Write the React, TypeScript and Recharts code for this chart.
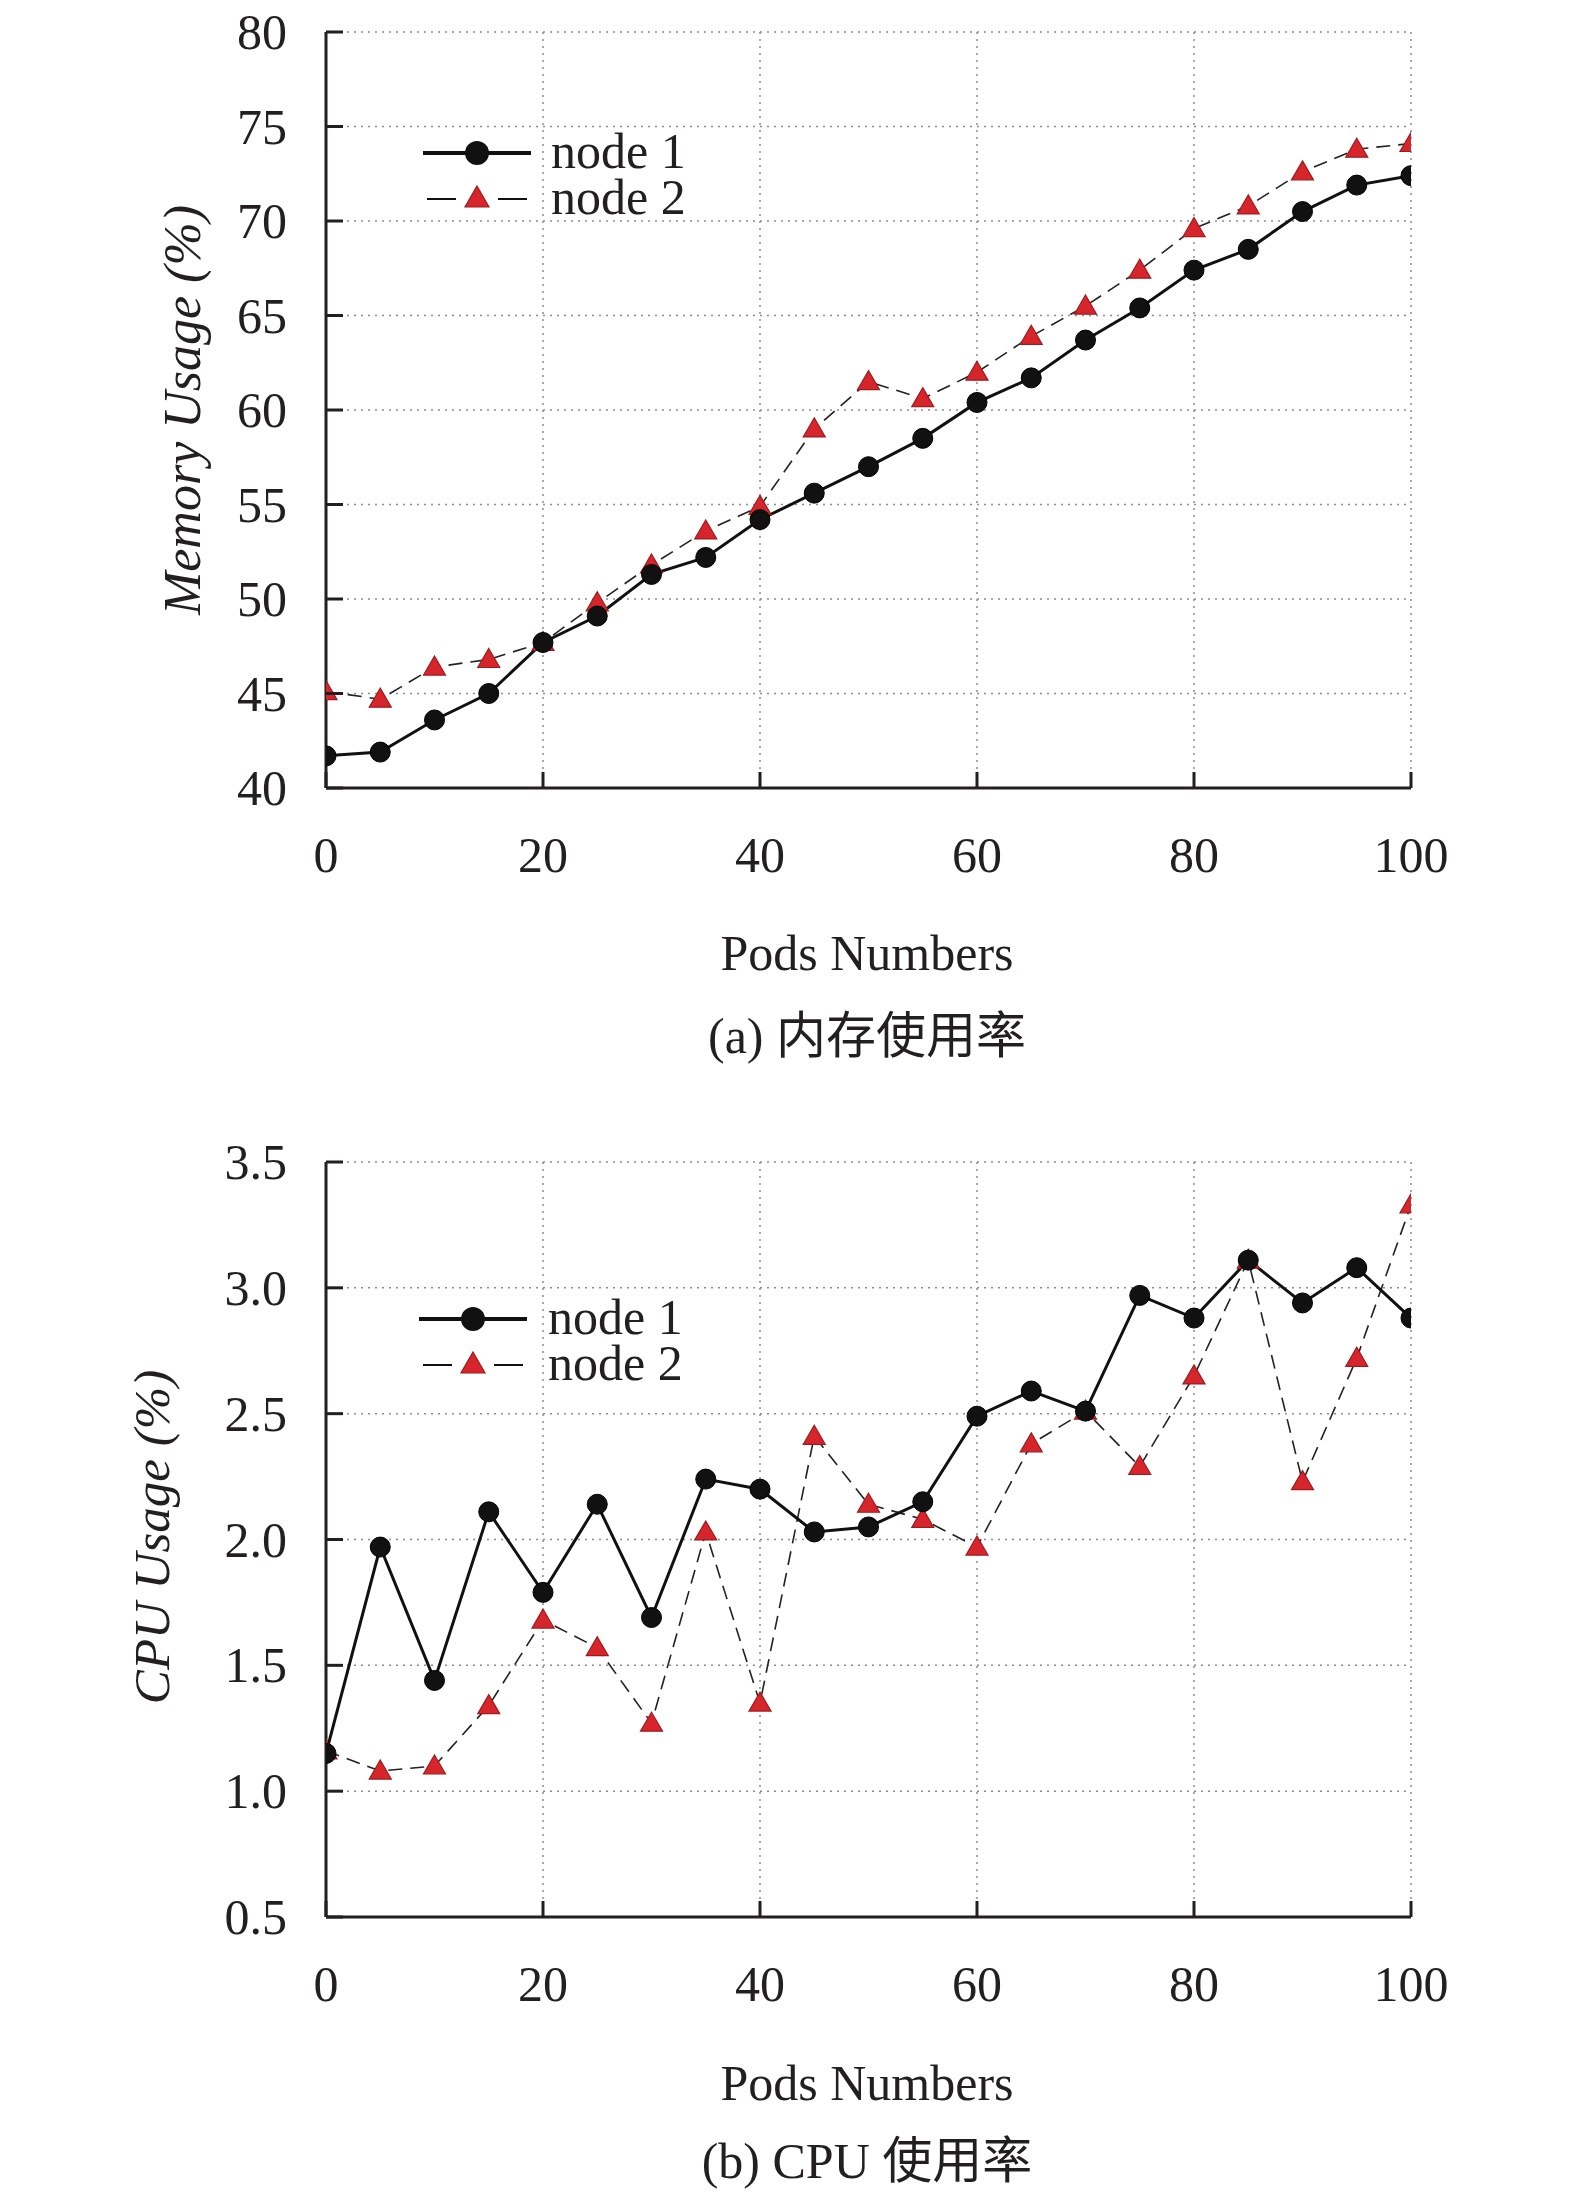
import { LineChart, Line, XAxis, YAxis, CartesianGrid } from "recharts";

const pods = [0, 5, 10, 15, 20, 25, 30, 35, 40, 45, 50, 55, 60, 65, 70, 75, 80, 85, 90, 95, 100];

const memNode1 = [41.7, 41.9, 43.6, 45.0, 47.7, 49.1, 51.3, 52.2, 54.2, 55.6, 57.0, 58.5, 60.4, 61.7, 63.7, 65.4, 67.4, 68.5, 70.5, 71.9, 72.4];
const memNode2 = [45.1, 44.7, 46.4, 46.8, 47.7, 49.8, 51.8, 53.6, 54.9, 59.0, 61.5, 60.6, 62.0, 63.9, 65.5, 67.4, 69.6, 70.8, 72.6, 73.8, 74.1];

const cpuNode1 = [1.15, 1.97, 1.44, 2.11, 1.79, 2.14, 1.69, 2.24, 2.2, 2.03, 2.05, 2.15, 2.49, 2.59, 2.51, 2.97, 2.88, 3.11, 2.94, 3.08, 2.88];
const cpuNode2 = [1.16, 1.08, 1.1, 1.34, 1.68, 1.57, 1.27, 2.03, 1.35, 2.41, 2.14, 2.08, 1.97, 2.38, 2.51, 2.29, 2.65, 3.11, 2.23, 2.72, 3.33];

const podTicks = [0, 20, 40, 60, 80, 100];
const memTicks = [40, 45, 50, 55, 60, 65, 70, 75, 80];
const cpuTicks = [0.5, 1.0, 1.5, 2.0, 2.5, 3.0, 3.5];

const memData = pods.map((p, i) => ({ pods: p, node1: memNode1[i], node2: memNode2[i] }));
const cpuData = pods.map((p, i) => ({ pods: p, node1: cpuNode1[i], node2: cpuNode2[i] }));

const serif = '"Liberation Serif", "Times New Roman", "Noto Sans CJK SC", serif';
const ink = "#231f20";
const red = "#d7262b";

function CircleDot(props: any) {
  const { cx, cy } = props;
  if (cx == null || cy == null) return null;
  return <circle cx={cx} cy={cy} r={10} fill="#111" stroke="#000" strokeWidth={1} />;
}

function TriangleDot(props: any) {
  const { cx, cy } = props;
  if (cx == null || cy == null) return null;
  const pts = `${cx},${cy - 11} ${cx + 11},${cy + 8} ${cx - 11},${cy + 8}`;
  return <polygon points={pts} fill={red} stroke="#9e1b1f" strokeWidth={1.2} />;
}

function XTick(props: any) {
  const { x, y, payload } = props;
  return (
    <g>
      <line x1={x} x2={x} y1={y} y2={y - 16} stroke={ink} strokeWidth={3} />
      <text x={x} y={y + 84} textAnchor="middle" fontSize={50} fontFamily={serif} fill={ink}>
        {payload.value}
      </text>
    </g>
  );
}

function makeYTick(fmt: (v: number) => string) {
  return (props: any) => {
    const { x, y, payload } = props;
    return (
      <g>
        <line x1={x} x2={x + 17} y1={y} y2={y} stroke={ink} strokeWidth={3} />
        <text x={x - 39} y={y + 17} textAnchor="end" fontSize={50} fontFamily={serif} fill={ink}>
          {fmt(payload.value)}
        </text>
      </g>
    );
  };
}

const memTick = makeYTick((v) => String(v));
const cpuTick = makeYTick((v) => v.toFixed(1));

function UsageChart({ data, yDomain, yTicks, yTick, top, height, marginTop, xHeight }: any) {
  return (
    <div style={{ position: "absolute", left: 0, top }}>
      <LineChart width={1575} height={height} data={data} margin={{ top: marginTop, right: 164, bottom: 0, left: 0 }}>
        <CartesianGrid stroke="#8c8c8c" strokeDasharray="2 5" strokeWidth={1.5} />
        <XAxis
          dataKey="pods"
          type="number"
          domain={[0, 100]}
          ticks={podTicks}
          allowDataOverflow
          height={xHeight}
          tickSize={0}
          tickMargin={0}
          tickLine={false}
          axisLine={{ stroke: ink, strokeWidth: 3 }}
          tick={XTick}
          interval={0}
        />
        <YAxis
          type="number"
          domain={yDomain}
          ticks={yTicks}
          allowDataOverflow
          width={326}
          tickSize={0}
          tickMargin={0}
          tickLine={false}
          axisLine={{ stroke: ink, strokeWidth: 3 }}
          tick={yTick}
          interval={0}
        />
        <Line
          dataKey="node2"
          stroke="#222"
          strokeWidth={1.6}
          strokeDasharray="14 8"
          isAnimationActive={false}
          dot={(p: any) => <TriangleDot key={`t-${p.index}`} {...p} />}
          activeDot={false}
        />
        <Line
          dataKey="node1"
          stroke="#111"
          strokeWidth={3}
          isAnimationActive={false}
          dot={(p: any) => <CircleDot key={`c-${p.index}`} {...p} />}
          activeDot={false}
        />
      </LineChart>
    </div>
  );
}

function LegendBox({ cx, cy, textX }: { cx: number; cy: number; textX: number }) {
  const cy2 = cy + 46;
  return (
    <g>
      <line x1={cx - 54} x2={cx + 54} y1={cy} y2={cy} stroke="#111" strokeWidth={4} />
      <circle cx={cx} cy={cy} r={12} fill="#111" />
      <text x={textX} y={cy + 15} fontSize={50} fontFamily={serif} fill={ink}>node 1</text>
      <line x1={cx - 50} x2={cx - 21} y1={cy2} y2={cy2} stroke="#111" strokeWidth={2} />
      <line x1={cx + 21} x2={cx + 50} y1={cy2} y2={cy2} stroke="#111" strokeWidth={2} />
      <polygon points={`${cx},${cy2 - 13} ${cx + 12},${cy2 + 8} ${cx - 12},${cy2 + 8}`} fill={red} stroke="#9e1b1f" strokeWidth={1.2} />
      <text x={textX} y={cy2 + 15} fontSize={50} fontFamily={serif} fill={ink}>node 2</text>
    </g>
  );
}

export default function App() {
  return (
    <div style={{ position: "absolute", left: 0, top: 0, width: 1575, height: 2203, background: "#fff" }}>
      <UsageChart data={memData} yDomain={[40, 80]} yTicks={memTicks} yTick={memTick} top={0} height={1100} marginTop={32} xHeight={312} />
      <UsageChart data={cpuData} yDomain={[0.5, 3.5]} yTicks={cpuTicks} yTick={cpuTick} top={1100} height={1103} marginTop={62} xHeight={286} />
      <svg width={1575} height={2203} style={{ position: "absolute", left: 0, top: 0, pointerEvents: "none" }}>
        <LegendBox cx={477} cy={153} textX={551} />
        <LegendBox cx={473} cy={1319} textX={548} />
        <text x={200} y={410} transform="rotate(-90 200 410)" textAnchor="middle" fontSize={52} fontStyle="italic" fontFamily={serif} fill={ink}>
          Memory Usage (%)
        </text>
        <text x={169} y={1537} transform="rotate(-90 169 1537)" textAnchor="middle" fontSize={51} fontStyle="italic" fontFamily={serif} fill={ink}>
          CPU Usage (%)
        </text>
        <text x={867} y={970} textAnchor="middle" fontSize={50} fontFamily={serif} fill={ink}>Pods Numbers</text>
        <text x={867} y={1053} textAnchor="middle" fontSize={50} fontFamily={serif} fill={ink}>(a) 内存使用率</text>
        <text x={867} y={2100} textAnchor="middle" fontSize={50} fontFamily={serif} fill={ink}>Pods Numbers</text>
        <text x={867} y={2178} textAnchor="middle" fontSize={50} fontFamily={serif} fill={ink}>(b) CPU 使用率</text>
      </svg>
    </div>
  );
}
